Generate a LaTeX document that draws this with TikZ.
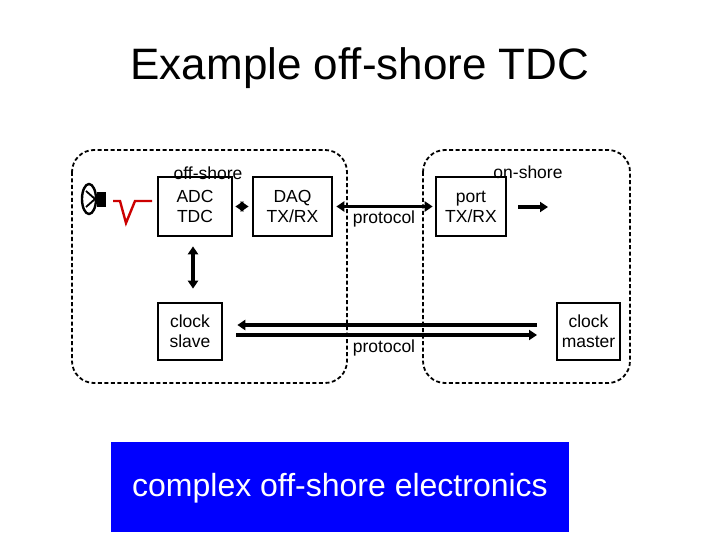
\documentclass[tikz,border=0pt]{standalone}
\usepackage{fontspec}
\setmainfont{Liberation Sans}
\usetikzlibrary{arrows.meta,calc}
\begin{document}
\begin{tikzpicture}[x=1pt,y=-1pt,
  box/.style={draw,line width=2.6pt,align=center,font=\fontsize{17.5}{20}\selectfont,inner sep=0pt},
  zone/.style={draw,dash pattern=on 4pt off 2.5pt,line width=1.8pt,rounded corners=22pt},
  lbl/.style={font=\fontsize{17.5}{20}\selectfont,inner sep=0pt},
  arr/.style={line width=3.2pt,-{Triangle[length=8pt,width=10pt]}},
  darr/.style={line width=3.2pt,{Triangle[length=8pt,width=10pt]}-{Triangle[length=8pt,width=10pt]}}]
\useasboundingbox (0,0) rectangle (720,540);
\fill[white] (0,0) rectangle (720,540);
\node[font=\fontsize{44}{48}\selectfont] (title) at (360,68) {Example off-shore TDC};
\draw[zone] (72,150) rectangle (347,383);
\draw[zone] (423,150) rectangle (630,383);
\node[box,minimum width=74pt,minimum height=59pt] (adc) at (195,206.5) {ADC\\TDC};
\node[box,minimum width=79pt,minimum height=59pt] (daq) at (292.5,206.5) {DAQ\\TX/RX};
\node[box,minimum width=70pt,minimum height=59pt] (port) at (471,206.5) {port\\TX/RX};
\node[box,minimum width=64pt,minimum height=57pt] (slave) at (190,331.5) {clock\\slave};
\node[box,minimum width=63pt,minimum height=57pt] (master) at (588.5,331.5) {clock\\master};
\node[lbl] (off) at (208,173) {off-shore};
\node[lbl] (on) at (528,172) {on-shore};
\node[lbl] (p1) at (384,219) {protocol};
\node[lbl] (p2) at (384,348) {protocol};
\draw[darr] ($(adc.east)+(2,0)$) -- ($(daq.west)+(-3,0)$);
\draw[darr] ($(daq.east)+(3,0)$) -- ($(port.west)+(-2,0)$);
\coordinate (o1) at (518,207); \coordinate (o2) at (548,207);
\draw[arr] (o1) -- (o2);
\draw[darr] ($(adc.south)+(-2,9)$) -- ($(slave.north)+(3,-13)$);
\coordinate (c1) at (537,325); \coordinate (c2) at (236,335); \coordinate (c3) at (537,335);
\draw[arr] (c1) -- ($(slave.east)+(14,-6.5)$);
\draw[arr] (c2) -- (c3);
% speaker
\draw[line width=2.4pt] (89,199) ellipse (7pt and 15pt);
\fill (97,192) rectangle (106,207);
\draw[line width=1.8pt] (86,191) -- (95,199) -- (86,207);
% pulse
\draw[red!80!black,line width=2.4pt] (113,201) -- (120,201) -- (126,223) -- (135,201) -- (152,201);
\fill[blue] (111,442) rectangle (569,532);
\node[font=\fontsize{32}{36}\selectfont,text=white] (cx) at (340,488) {complex off-shore electronics};
\end{tikzpicture}
\end{document}
